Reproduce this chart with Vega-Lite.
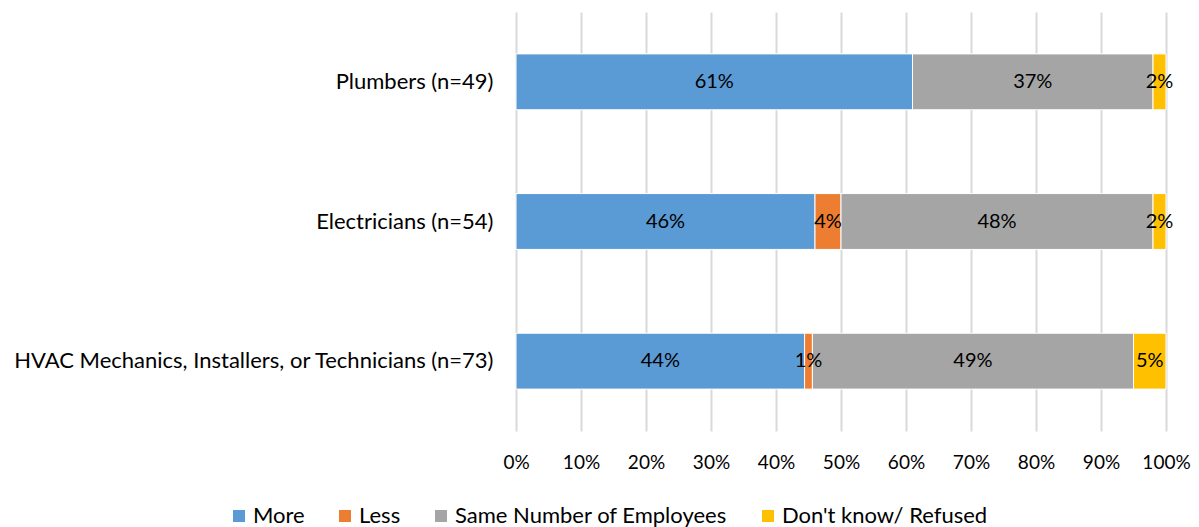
{
  "$schema": "https://vega.github.io/schema/vega-lite/v6.json",
  "width": 650,
  "height": 419,
  "autosize": "none",
  "padding": {"left": 516, "top": 12, "right": 33, "bottom": 96},
  "background": "white",
  "config": {
    "font": "Lato",
    "view": {"stroke": null}
  },
  "data": {
    "values": [
      {"occupation": "Plumbers (n=49)", "response": "More", "share": 0.61},
      {"occupation": "Plumbers (n=49)", "response": "Same Number of Employees", "share": 0.37},
      {"occupation": "Plumbers (n=49)", "response": "Don't know/ Refused", "share": 0.02},
      {"occupation": "Electricians (n=54)", "response": "More", "share": 0.46},
      {"occupation": "Electricians (n=54)", "response": "Less", "share": 0.04},
      {"occupation": "Electricians (n=54)", "response": "Same Number of Employees", "share": 0.48},
      {"occupation": "Electricians (n=54)", "response": "Don't know/ Refused", "share": 0.02},
      {"occupation": "HVAC Mechanics, Installers, or Technicians (n=73)", "response": "More", "share": 0.444},
      {"occupation": "HVAC Mechanics, Installers, or Technicians (n=73)", "response": "Less", "share": 0.012},
      {"occupation": "HVAC Mechanics, Installers, or Technicians (n=73)", "response": "Same Number of Employees", "share": 0.494},
      {"occupation": "HVAC Mechanics, Installers, or Technicians (n=73)", "response": "Don't know/ Refused", "share": 0.05}
    ]
  },
  "transform": [
    {"calculate": "indexof(['More', 'Less', 'Same Number of Employees', \"Don't know/ Refused\"], datum.response)", "as": "stackOrder"}
  ],
  "encoding": {
    "y": {
      "field": "occupation",
      "type": "nominal",
      "sort": null,
      "scale": {"paddingInner": 0.6, "paddingOuter": 0.3},
      "axis": {
        "title": null,
        "domain": false,
        "ticks": false,
        "labelFontSize": 22,
        "labelColor": "#000000",
        "labelPadding": 23,
        "labelLimit": 600
      }
    },
    "x": {
      "field": "share",
      "type": "quantitative",
      "stack": "zero",
      "scale": {"domain": [0, 1], "nice": false},
      "axis": {
        "title": null,
        "format": ".0%",
        "values": [0, 0.1, 0.2, 0.3, 0.4, 0.5, 0.6, 0.7, 0.8, 0.9, 1],
        "domain": false,
        "ticks": false,
        "grid": true,
        "gridColor": "#d9d9d9",
        "gridWidth": 2,
        "labelFontSize": 19,
        "labelColor": "#000000",
        "labelPadding": 22,
        "labelFlush": false,
        "labelOverlap": false
      }
    },
    "order": {"field": "stackOrder", "type": "quantitative", "sort": "ascending"},
    "color": {
      "field": "response",
      "type": "nominal",
      "sort": ["More", "Less", "Same Number of Employees", "Don't know/ Refused"],
      "scale": {
        "domain": ["More", "Less", "Same Number of Employees", "Don't know/ Refused"],
        "range": ["#5B9BD5", "#ED7D31", "#A5A5A5", "#FFC000"]
      },
      "legend": {
        "title": null,
        "orient": "none",
        "direction": "horizontal",
        "legendX": -288,
        "legendY": 493,
        "symbolType": "square",
        "symbolSize": 144,
        "symbolStrokeWidth": 0,
        "labelFontSize": 22,
        "labelLimit": 500,
        "labelColor": "#000000",
        "columnPadding": 29,
        "labelOffset": 3
      }
    }
  },
  "layer": [
    {
      "mark": {"type": "bar", "stroke": "white", "strokeWidth": 1}
    },
    {
      "mark": {"type": "text", "fontSize": 20, "align": "center", "baseline": "middle"},
      "encoding": {
        "x": {"field": "share", "type": "quantitative", "stack": "zero", "bandPosition": 0.5},
        "text": {"field": "share", "type": "quantitative", "format": ".0%"},
        "fill": {"value": "#000000"}
      }
    }
  ]
}
